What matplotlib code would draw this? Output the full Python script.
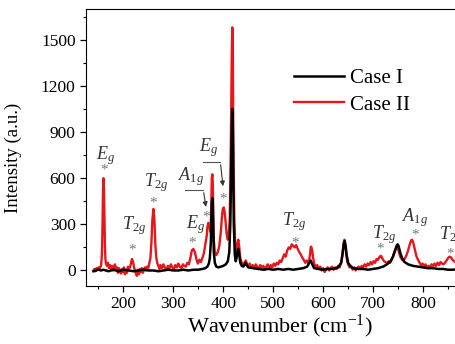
import numpy as np
import matplotlib.pyplot as plt

plt.rcParams['font.family'] = ['Liberation Serif', 'DejaVu Serif']
plt.rcParams['mathtext.fontset'] = 'custom'
plt.rcParams['mathtext.rm'] = 'Liberation Serif'
plt.rcParams['mathtext.it'] = 'Liberation Serif:italic'

# Case II (red) spectrum (10 points per row)
x_case2 = [140, 142, 144, 146, 148, 150, 152, 154, 155, 156,
           157, 158, 159, 160, 161, 162, 163, 164, 165, 167,
           169, 171, 173, 175, 177, 179, 181, 183, 185, 187,
           189, 191, 193, 195, 197, 199, 201, 203, 205, 207,
           209, 211, 213, 215, 217, 219, 221, 223, 225, 227,
           229, 231, 233, 235, 237, 239, 241, 243, 245, 247,
           249, 251, 254, 256, 258, 260, 262, 264, 266, 268,
           270, 272, 274, 277, 280, 283, 286, 289, 292, 295,
           298, 301, 304, 307, 310, 313, 316, 319, 322, 325,
           328, 331, 334, 337, 340, 343, 346, 349, 352, 355,
           358, 361, 363, 365, 367, 368, 370, 372, 374, 375,
           376, 377, 378, 379, 380, 381, 383, 386, 389, 392,
           395, 397, 399, 401, 403, 405, 407, 409, 411, 413,
           415, 417, 418, 419, 420, 422, 424, 426, 428, 430,
           432, 434, 437, 440, 443, 445, 447, 450, 453, 456,
           459, 462, 465, 468, 471, 474, 477, 480, 483, 486,
           489, 492, 495, 498, 501, 504, 507, 510, 513, 516,
           519, 522, 525, 528, 531, 534, 537, 540, 543, 546,
           549, 552, 555, 558, 561, 564, 567, 570, 572, 574,
           575, 576, 578, 580, 582, 585, 588, 591, 594, 597,
           600, 603, 606, 609, 612, 615, 618, 621, 624, 627,
           630, 633, 636, 638, 640, 642, 643, 644, 646, 648,
           650, 653, 656, 659, 662, 665, 668, 671, 674, 677,
           680, 683, 686, 689, 692, 695, 698, 701, 704, 707,
           710, 713, 716, 719, 722, 725, 728, 731, 734, 737,
           740, 743, 746, 748, 750, 752, 755, 758, 761, 764,
           767, 770, 773, 776, 778, 780, 782, 784, 787, 790,
           793, 796, 799, 802, 805, 808, 811, 814, 817, 820,
           823, 826, 829, 832, 835, 838, 841, 844, 847, 850,
           853, 856, 859, 862, 865, 868, 872, 876, 880]
y_case2 = [0, 10, -5, 15, 5, 20, 10, 25, 30, 60,
           120, 280, 500, 600, 530, 320, 150, 70, 45, 30,
           50, 15, 35, 10, 30, 0, 25, 40, 5, 20,
           -15, 15, 0, -20, 10, -10, 20, -25, 5, -15,
           25, 10, 20, 45, 75, 60, 25, 0, -20, -35,
           5, -25, 10, -10, 15, -15, 5, 20, 0, 25,
           10, 35, 80, 180, 330, 400, 330, 160, 80, 45,
           30, 10, 35, 15, 40, 20, 5, 30, 15, 40,
           20, 10, 35, 20, 45, 25, 15, 40, 30, 25,
           50, 40, 80, 130, 140, 120, 75, 45, 70, 55,
           80, 110, 150, 190, 230, 280, 310, 290, 250, 300,
           450, 600, 625, 560, 350, 200, 120, 100, 120, 160,
           250, 340, 400, 410, 370, 300, 230, 200, 230, 350,
           800, 1400, 1580, 1450, 900, 350, 150, 120, 170, 200,
           150, 80, 50, 40, 55, 65, 45, 30, 45, 20,
           35, 15, 40, 25, 10, 35, 20, 30, 5, 25,
           40, 15, 35, 20, 45, 30, 50, 40, 65, 55,
           80, 105, 90, 130, 150, 140, 170, 160, 150, 165,
           140, 120, 105, 85, 70, 50, 65, 45, 70, 110,
           150, 155, 130, 80, 45, 25, 35, 10, 25, 0,
           15, -10, 10, 20, 0, 15, 25, 5, 20, 10,
           30, 20, 50, 90, 150, 195, 200, 170, 110, 60,
           40, 20, 30, 5, 20, 0, 15, 25, 10, 30,
           20, 40, 25, 45, 35, 55, 40, 60, 50, 75,
           70, 90, 95, 75, 60, 55, 45, 60, 50, 70,
           95, 125, 145, 150, 140, 115, 85, 70, 65, 80,
           100, 130, 165, 195, 200, 185, 160, 130, 90, 70,
           50, 35, 45, 25, 40, 15, 30, 20, 40, 25,
           45, 30, 50, 35, 55, 45, 40, 50, 65, 80,
           90, 85, 70, 60, 55, 50, 45, 40, 45]

# Case I (black) spectrum
x_case1 = [140, 145, 150, 155, 160, 165, 170, 175, 180, 185,
           190, 195, 200, 210, 220, 230, 240, 250, 260, 270,
           280, 290, 300, 310, 320, 330, 340, 350, 358, 364,
           368, 371, 373, 375, 376, 377, 378, 379, 380, 381,
           383, 386, 390, 395, 400, 405, 409, 412, 414, 416,
           417, 418, 419, 420, 421, 423, 425, 427, 429, 430,
           432, 434, 437, 440, 443, 445, 447, 450, 460, 470,
           480, 490, 500, 510, 520, 530, 540, 550, 560, 568,
           572, 575, 578, 582, 590, 600, 610, 620, 630, 636,
           639, 641, 643, 645, 647, 650, 655, 660, 670, 680,
           690, 700, 710, 720, 728, 735, 740, 744, 747, 749,
           751, 754, 758, 763, 770, 780, 790, 800, 810, 820,
           830, 840, 850, 860, 870, 880]
y_case1 = [-5, 0, 5, 0, 5, 0, -5, 0, 5, 0,
           -5, 0, 5, 0, -5, 0, 5, 0, 0, -5,
           0, 5, 0, 0, 5, 0, 5, 5, 10, 15,
           25, 45, 80, 180, 320, 440, 470, 420, 250, 120,
           50, 25, 20, 25, 30, 40, 60, 120, 300, 700,
           950, 1050, 950, 600, 300, 100, 60, 90, 130, 140,
           100, 50, 30, 25, 40, 50, 35, 20, 15, 10,
           5, 10, 5, 10, 5, 10, 5, 10, 15, 25,
           50, 65, 40, 15, 10, 5, 10, 10, 20, 50,
           110, 170, 190, 160, 100, 50, 25, 15, 10, 10,
           5, 10, 15, 25, 40, 60, 90, 130, 160, 170,
           160, 120, 80, 55, 40, 30, 25, 20, 15, 15,
           10, 10, 5, 5, 10, 5]

fig = plt.figure(figsize=(4.55, 3.44), dpi=100)
ax = fig.add_axes([0.189, 0.169, 0.8505, 0.805])

ax.plot(x_case2, y_case2, color='#e8151b', lw=1.7, label='Case II', zorder=2)
ax.plot(x_case1, y_case1, color='black', lw=1.8, label='Case I', zorder=3)

ax.set_xlim(125, 900)
ax.set_ylim(-100, 1700)
ax.set_xticks([200, 300, 400, 500, 600, 700, 800])
ax.set_xticks(np.arange(150, 900, 50), minor=True)
ax.set_yticks([0, 300, 600, 900, 1200, 1500])
ax.set_yticks(np.arange(150, 1700, 300), minor=True)
ax.tick_params(which='both', direction='out', labelsize=12.5, top=False, right=False)
ax.tick_params(which='major', length=4, width=0.9)
ax.tick_params(which='minor', length=2.5, width=0.8)
ax.set_xlabel('Wavenumber (cm$^{-1}$)', fontsize=16, labelpad=0)
ax.set_ylabel('Intensity (a.u.)', fontsize=13.5)
ax.yaxis.set_label_coords(-0.165, 0.462)

handles, labels = ax.get_legend_handles_labels()
ax.legend(handles[::-1], labels[::-1], loc='upper left', bbox_to_anchor=(0.516, 0.816),
          borderaxespad=0, frameon=False, fontsize=15, handlelength=2.4,
          handletextpad=0.3, labelspacing=0.35)

# peak assignments: (label, label x, label y, star x, star y)
peaks = [
    (r'$E_g$', 164, 750, 161, 650),
    (r'$T_{2g}$', 222, 290, 218, 135),
    (r'$T_{2g}$', 266, 570, 260, 440),
    (r'$E_g$', 344, 300, 338, 180),
    (r'$T_{2g}$', 542, 320, 544, 180),
    (r'$T_{2g}$', 722, 235, 714, 140),
    (r'$A_{1g}$', 784, 345, 784, 232),
    (r'$T_{2g}$', 856, 225, 854, 105),
]
for lab, lx, ly, sx, sy in peaks:
    ax.text(lx, ly, lab, fontsize=13, ha='center', va='center', color='#333333')
    ax.text(sx, sy, '*', fontsize=11, ha='center', va='center', color='#777777')

# labels with leader arrows
ax.text(336, 610, r'$A_{1g}$', fontsize=13, ha='center', va='center', color='#333333')
ax.plot([324, 360], [524, 524], color='#555555', lw=0.8)
ax.annotate('', xy=(366, 395), xytext=(360, 524),
            arrowprops=dict(arrowstyle='-|>', color='#333333', lw=0.8, mutation_scale=7))
ax.text(366, 350, '*', fontsize=11, ha='center', va='center', color='#777777')

ax.text(371, 800, r'$E_g$', fontsize=13, ha='center', va='center', color='#333333')
ax.plot([360, 394], [705, 705], color='#555555', lw=0.8)
ax.annotate('', xy=(400, 530), xytext=(394, 705),
            arrowprops=dict(arrowstyle='-|>', color='#333333', lw=0.8, mutation_scale=7))
ax.text(400, 465, '*', fontsize=11, ha='center', va='center', color='#777777')

fig.savefig('out.png', dpi=100)
